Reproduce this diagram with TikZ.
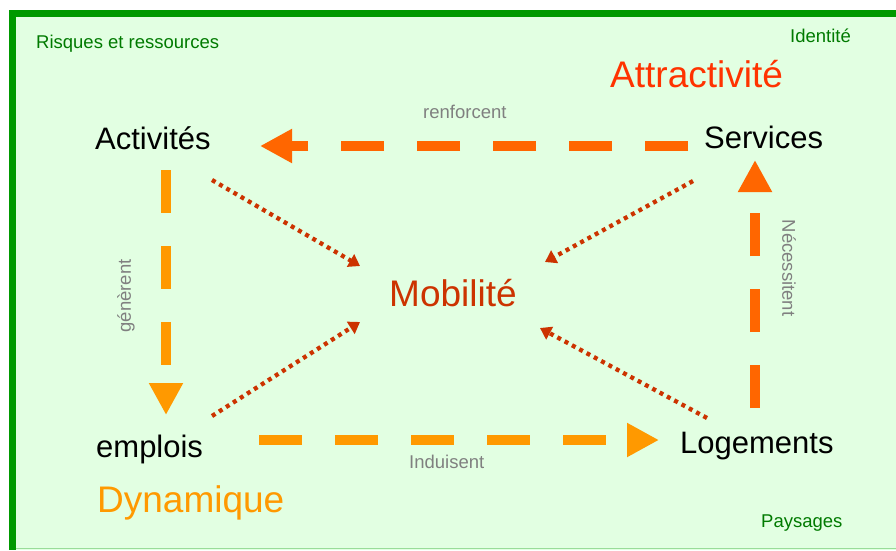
\documentclass[tikz,border=0pt]{standalone}
\usepackage{fontspec}
\setmainfont{Liberation Sans}
\usetikzlibrary{arrows.meta}

\definecolor{fond}{HTML}{E2FFE2}
\definecolor{cadre}{HTML}{009900}
\definecolor{vertclair}{HTML}{99DD99}
\definecolor{vertfonce}{HTML}{007A00}
\definecolor{gris}{HTML}{808080}
\definecolor{rougeor}{HTML}{FF6600}
\definecolor{orange}{HTML}{FF9900}
\definecolor{attract}{HTML}{FF3300}
\definecolor{brique}{HTML}{CC3300}

\begin{document}
\begin{tikzpicture}[x=1pt,y=-1pt,
  every node/.style = {inner sep=0pt, anchor=base west},
  pole/.style = {font=\fontsize{31}{31}\selectfont, text=black},
  theme/.style = {font=\fontsize{37}{37}\selectfont},
  cadrage/.style = {font=\fontsize{18.5}{18.5}\selectfont, text=vertfonce},
  verbe/.style = {font=\fontsize{18.5}{18.5}\selectfont, text=gris},
  flux/.style = {line width=10pt, dash pattern=on 43pt off 33pt,
    -{Triangle[length=32pt,width=32pt]}},
  lien/.style = {brique, line width=4.3pt, dash pattern=on 4pt off 4.3pt,
    -{Triangle[length=11pt,width=14pt]}}]
  \useasboundingbox (0,0) rectangle (896,550);

  % fond et cadre
  \fill[fond] (9,10) rectangle (896,550);
  \fill[cadre] (9,10) rectangle (896,17);
  \fill[cadre] (9,10) rectangle (16,550);
  \draw[vertclair, line width=1.5pt] (16,548.5) -- (896,548.5);

  % les quatre poles et le centre
  \node[pole] (act) at (95,149) {Activités};
  \node[pole] (serv) at (704,148) {Services};
  \node[pole] (empl) at (96,457) {emplois};
  \node[pole] (loge) at (680,453) {Logements};
  \node[theme, text=brique] (mob) at (389,306) {Mobilité};

  % themes et cadrage
  \node[theme, text=attract] (attr) at (610,87) {Attractivité};
  \node[theme, text=orange] (dyn) at (97,512) {Dynamique};
  \node[cadrage] (risq) at (36,48) {Risques et ressources};
  \node[cadrage] (iden) at (790,42) {Identité};
  \node[cadrage] (pays) at (761,527) {Paysages};

  % verbes
  \node[verbe] (renf) at (423,118) {renforcent};
  \node[verbe] (indu) at (409,468) {Induisent};
  \node[verbe, anchor=center, rotate=90] (gene) at (126,296) {génèrent};
  \node[verbe, anchor=center, rotate=-90] (nece) at (789,268) {Nécessitent};

  % le cycle
  \draw[flux, rougeor] ([shift={(-16,-2)}]serv.base west)
    -- ([shift={(165,-3)}]act.base west);
  \draw[flux, orange] ([shift={(71,21)}]act.base west)
    -- ([shift={(70,-42)}]empl.base west);
  \draw[flux, orange] ([shift={(163,-17)}]empl.base west)
    -- ([shift={(-21,-13)}]loge.base west);
  \draw[flux, rougeor] ([shift={(75,-45)}]loge.base west)
    -- ([shift={(51,12)}]serv.base west);

  % vers la mobilite
  \draw[lien] ([shift={(117,31)}]act.base west) -- ([shift={(-29,-40)}]mob.base west);
  \draw[lien] ([shift={(-11,33)}]serv.base west) -- ([shift={(156,-44)}]mob.base west);
  \draw[lien] ([shift={(116,-41)}]empl.base west) -- ([shift={(-29,16)}]mob.base west);
  \draw[lien] ([shift={(27,-35)}]loge.base west) -- ([shift={(151,22)}]mob.base west);
\end{tikzpicture}
\end{document}
